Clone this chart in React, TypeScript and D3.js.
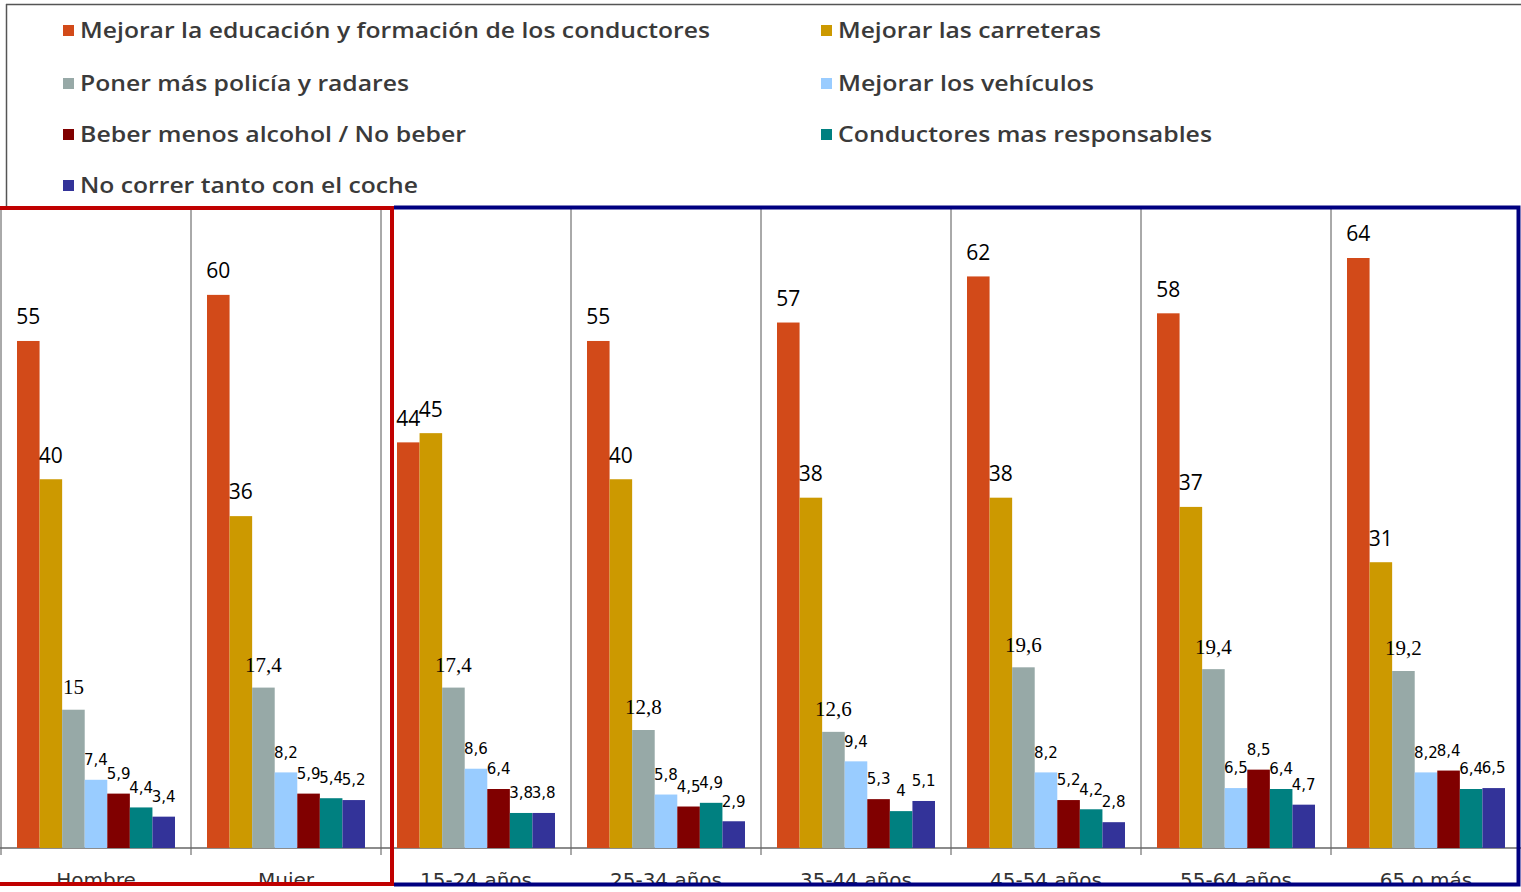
import React from "react";
import * as d3 from "d3";

const categories = ["Hombre", "Mujer", "15-24 años", "25-34 años", "35-44 años", "45-54 años", "55-64 años", "65 o más"];
const seriesNames = [
  "Mejorar la educación y formación de los conductores",
  "Mejorar las carreteras",
  "Poner más policía y radares",
  "Mejorar los vehículos",
  "Beber menos alcohol / No beber",
  "Conductores mas responsables",
  "No correr tanto con el coche",
];
const seriesColors = ["#D24A19", "#CC9900", "#97A9A7", "#99CCFF", "#800000", "#008080", "#333399"];
const educacion = [55, 60, 44, 55, 57, 62, 58, 64];
const carreteras = [40, 36, 45, 40, 38, 38, 37, 31];
const policia = [15, 17.4, 17.4, 12.8, 12.6, 19.6, 19.4, 19.2];
const vehiculos = [7.4, 8.2, 8.6, 5.8, 9.4, 8.2, 6.5, 8.2];
const alcohol = [5.9, 5.9, 6.4, 4.5, 5.3, 5.2, 8.5, 8.4];
const responsables = [4.4, 5.4, 3.8, 4.9, 4, 4.2, 6.4, 6.4];
const correr = [3.4, 5.2, 3.8, 2.9, 5.1, 2.8, 4.7, 6.5];
const seriesValues = [educacion, carreteras, policia, vehiculos, alcohol, responsables, correr];

const legendTextWidths = [630, 263, 329, 256, 386, 374, 338];

const W = 1521;
const H = 892;
const BASE = 848;

export default function App() {
  const x0 = d3.scaleBand<string>().domain(categories).range([1, 1521]).padding(0);
  const x1 = d3.scaleBand<string>().domain(seriesNames).range([16, 174]).padding(0);
  const y = d3.scaleLinear().domain([0, 64]).range([BASE, 258]);

  const fmt = (v: number) => String(v).replace(".", ",");

  const labelStyle = (si: number) => {
    if (si <= 1) return { fontFamily: "'Open Sans', sans-serif", fontSize: 21, dy: -24 };
    if (si === 2) return { fontFamily: "'Liberation Serif', serif", fontSize: 21, dy: -23 };
    return { fontFamily: "'DejaVu Sans', Verdana, sans-serif", fontSize: 15, dy: -20 };
  };

  return (
    <svg width={W} height={H} style={{ position: "absolute", left: 0, top: 0, background: "#fff" }}>
      <defs>
        <clipPath id="catclip">
          <rect x={0} y={850} width={W} height={36} />
        </clipPath>
      </defs>
      <rect x={0} y={0} width={W} height={H} fill="#fff" />
      {/* legend box */}
      <line x1={6} y1={4.5} x2={W} y2={4.5} stroke="#555" strokeWidth={1.5} />
      <line x1={6.5} y1={4} x2={6.5} y2={207} stroke="#555" strokeWidth={1.5} />
      {seriesNames.map((name, i) => {
        const col = i % 2;
        const row = Math.floor(i / 2);
        const lx = col === 0 ? 63 : 821;
        const ly = [30, 83, 134, 185][row];
        return (
          <g key={name}>
            <rect x={lx} y={ly - 5} width={11} height={11} fill={seriesColors[i]} />
            <text
              x={lx + 17}
              y={ly}
              dy="0.36em"
              fontFamily="'Open Sans', sans-serif"
              fontWeight={600}
              fontSize={21}
              fill="#3a3a3a"
              textLength={legendTextWidths[i]}
              lengthAdjust="spacingAndGlyphs"
            >
              {name}
            </text>
          </g>
        );
      })}

      {/* separators and ticks */}
      {categories.map((c) => (
        <line key={c} x1={x0(c)!} y1={208} x2={x0(c)!} y2={855} stroke="#555" strokeWidth={1} />
      ))}
      <line x1={0} y1={BASE} x2={W} y2={BASE} stroke="#666" strokeWidth={1.5} />

      {/* bars */}
      {categories.map((c, ci) => (
        <g key={c} transform={`translate(${x0(c)},0)`}>
          {seriesNames.map((s, si) => {
            const v = seriesValues[si][ci];
            return (
              <rect
                key={s}
                x={x1(s)!}
                y={y(v)}
                width={x1.bandwidth()}
                height={BASE - y(v)}
                fill={seriesColors[si]}
              />
            );
          })}
        </g>
      ))}

      {/* value labels */}
      {categories.map((c, ci) => (
        <g key={c} transform={`translate(${x0(c)},0)`}>
          {seriesNames.map((s, si) => {
            const v = seriesValues[si][ci];
            const st = labelStyle(si);
            return (
              <text
                key={s}
                x={x1(s)! + x1.bandwidth() / 2}
                y={y(v) + st.dy}
                dy="0.35em"
                textAnchor="middle"
                fontFamily={st.fontFamily}
                fontSize={st.fontSize}
                fill="#000"
              >
                {fmt(v)}
              </text>
            );
          })}
        </g>
      ))}

      {/* category labels */}
      <g clipPath="url(#catclip)">
        {categories.map((c) => (
          <text
            key={c}
            x={x0(c)! + x0.bandwidth() / 2}
            y={887}
            textAnchor="middle"
            fontFamily="'DejaVu Sans', Verdana, sans-serif"
            fontSize={20}
            fill="#333"
          >
            {c}
          </text>
        ))}
      </g>

      {/* highlight frames */}
      <path d="M -4 208 H 392 V 884 H -4" fill="none" stroke="#C00000" strokeWidth={4} />
      <path d="M 394 207.5 H 1518.5 V 884.5 H 394" fill="none" stroke="#000080" strokeWidth={4} />
    </svg>
  );
}
